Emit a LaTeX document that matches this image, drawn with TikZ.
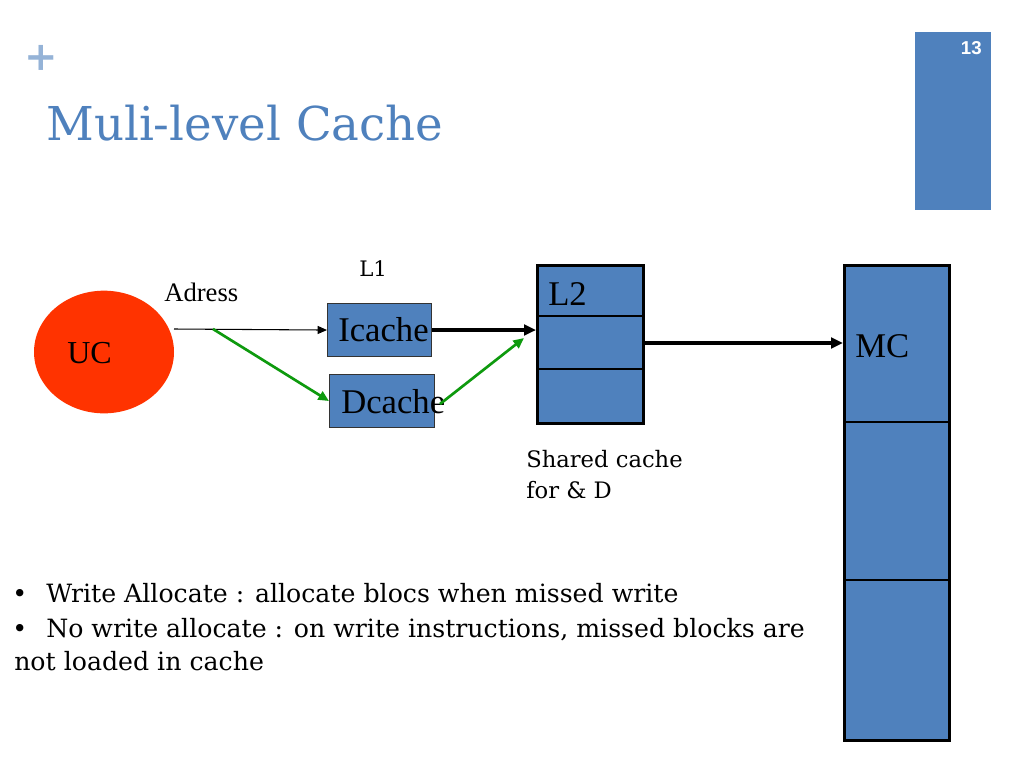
\documentclass[tikz,border=0pt]{standalone}
\usepackage{fontspec}
\setmainfont{Liberation Serif}
\newfontfamily\rock{DejaVu Serif}
\newfontfamily\numfont{Liberation Sans}
\usetikzlibrary{arrows.meta,shapes.geometric}
\definecolor{sblue}{HTML}{4F81BD}
\definecolor{lblue}{HTML}{95B3D7}
\definecolor{ucred}{HTML}{FF3300}
\definecolor{agreen}{HTML}{0E9A0E}
\tikzset{
  cbox/.style={draw=black!80, fill=sblue, line width=0.8pt, inner sep=0pt, anchor=north west},
  mbox/.style={draw=black, fill=sblue, line width=2.2pt, inner sep=0pt, anchor=north west},
  tnr/.style={font=\fontsize{26}{30}\selectfont, inner sep=0pt, anchor=base west},
  thinarr/.style={-{Triangle[length=7pt,width=6pt]}, line width=0.8pt},
  thickarr/.style={-{Triangle[length=9pt,width=8pt]}, line width=2.4pt},
  garr/.style={-{Triangle[length=8pt,width=7pt]}, draw=agreen, line width=2pt},
  body/.style={font=\rock\fontsize{18.9}{22}\selectfont, inner sep=0pt, anchor=base west},
  note/.style={font=\rock\fontsize{17}{20}\selectfont, inner sep=0pt, anchor=base west},
}
\begin{document}
\begin{tikzpicture}[x=0.75pt,y=-0.75pt]
\useasboundingbox (0,0) rectangle (1024,768);
% header
\node[font=\rock\bfseries\fontsize{30}{30}\selectfont, text=lblue, inner sep=0pt] (plus) at (41,58) {+};
\node[font=\rock\fontsize{35}{40}\selectfont, text=sblue, inner sep=0pt, anchor=base west] (title) at (46,140) {Muli-level Cache};
\node[fill=sblue, minimum width=57pt, minimum height=133.5pt, inner sep=0pt, anchor=north west] (numbar) at (915,32) {};
\node[font=\numfont\bfseries\fontsize{14}{14}\selectfont, text=white, inner sep=0pt, anchor=base east] (num) at (982,54) {13};
% UC
\node[ellipse, fill=ucred, minimum width=105pt, minimum height=92pt, inner sep=0pt] (uc) at (104,352) {};
\node[font=\fontsize{24}{28}\selectfont, inner sep=0pt, anchor=base west] (uctext) at (67,363) {UC};
\node[font=\fontsize{20}{24}\selectfont, inner sep=0pt, anchor=base west] (adr) at (164,301) {Adress};
\node[font=\rock\fontsize{16}{18}\selectfont, inner sep=0pt, anchor=base west] (l1) at (359,276) {L1};
% L1 caches
\node[cbox, minimum width=78pt, minimum height=39.75pt] (ic) at (327,303) {};
\node[tnr] (ictext) at (338,341) {Icache};
\node[cbox, minimum width=78.75pt, minimum height=39.75pt] (dc) at (329,374) {};
\node[tnr] (dctext) at (341,413) {Dcache};
% L2
\node[mbox, minimum width=79.5pt, minimum height=118.5pt] (l2) at (536,264) {};
\draw[line width=1.2pt] (536,316) coordinate (l2a) -- (642,316) coordinate (l2b);
\draw[line width=1.2pt] (536,369) coordinate (l2c) -- (642,369) coordinate (l2d);
\node[tnr] (l2text) at (548,305) {L2};
% MC
\node[mbox, minimum width=78.75pt, minimum height=356.25pt] (mc) at (843,264) {};
\draw[line width=2.2pt] (843,422) coordinate (mca) -- (948,422) coordinate (mcb);
\draw[line width=2.2pt] (843,580) coordinate (mcc) -- (948,580) coordinate (mcd);
\node[tnr] (mctext) at (855,357) {MC};
% connectors
\coordinate (a0) at (174,329);
\coordinate (split) at (213,329);
\draw[thinarr] (a0) -- (ic.west);
\draw[garr] (split) -- (dc.west);
\coordinate (g1) at (440,404);
\coordinate (g2) at (524,338);
\draw[garr] (g1) -- (g2);
\draw[thickarr] (ic.east) -- (ic.east -| l2.west);
\coordinate (m0) at (643,343);
\draw[thickarr] (m0) -- (m0 -| mc.west);
% notes
\node[note] (shared) at (526,467) {Shared cache};
\node[note] (shared2) at (526,498) {for \& D};
\node[body] (b1dot) at (12,602) {•};
\node[body] (b1) at (46,602) {Write Allocate : allocate blocs when missed write};
\node[body] (b2dot) at (12,637) {•};
\node[body] (b2) at (46,637) {No write allocate : on write instructions, missed blocks are};
\node[body] (b3) at (14,670) {not loaded in cache};
\end{tikzpicture}
\end{document}
